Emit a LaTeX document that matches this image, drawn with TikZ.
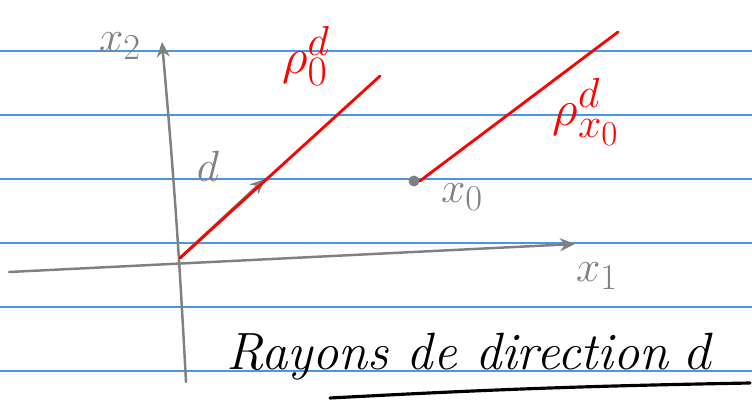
\documentclass[tikz,border=0pt]{standalone}
\usepackage{tikz}
\usetikzlibrary{arrows.meta}

\definecolor{ruleblue}{RGB}{74,150,230}
\definecolor{pengray}{RGB}{128,128,128}

\begin{document}
\begin{tikzpicture}[x=0.02cm,y=-0.02cm,>={Stealth[length=3mm,width=2.6mm]},
    rule/.style={ruleblue,line width=0.9pt},
    axis/.style={pengray,line width=1.4pt,line cap=round},
    ray/.style={red,line width=1.6pt,line cap=round},
    graylabel/.style={pengray,font=\Huge,inner sep=0pt},
    redlabel/.style={red,font=\Huge,inner sep=0pt,scale=1.15}]
  \useasboundingbox[fill=white] (0,0) rectangle (752,403);
  % lined paper
  \foreach \y in {51,115,179,243,307,371}
    \draw[rule] (0,\y) -- (752,\y);
  % axes
  \coordinate (o) at (180,258);
  \coordinate (x2bot) at (186,382);
  \coordinate (x2top) at (162,42);
  \coordinate (x1left) at (9,272);
  \coordinate (x1right) at (575,244);
  \draw[axis,->] (x2bot) to[bend right=1] (x2top);
  \draw[axis,->] (x1left) -- (x1right);
  \node[graylabel] (lx2) at (120,46) {$x_2$};
  \node[graylabel] (lx1) at (597,276) {$x_1$};
  % direction d and the ray from the origin
  \coordinate (dtip) at (265,179);
  \coordinate (r0end) at (380,76);
  \draw[axis,->,line width=1.6pt] (o) -- (dtip);
  \draw[ray] (o) -- (r0end);
  \node[graylabel] (ld) at (208,166) {$d$};
  \node[redlabel] (lr0) at (306,56) {$\rho_0^d$};
  % the ray from x0
  \node[circle,fill=pengray,inner sep=0pt,minimum size=2.2mm] (x0) at (414,181) {};
  \coordinate (r1end) at (618,32);
  \draw[ray] (x0.east) -- (r1end);
  \node[graylabel] (lx0) at (462,197) {$x_0$};
  \node[redlabel] (lr1) at (586,112) {$\rho_{x_0}^d$};
  % title
  \node[anchor=base,inner sep=0pt,font=\Huge\itshape,scale=1.2] (title) at (470,369) {Rayons de direction $d$};
  \coordinate (ulstart) at (330,398);
  \coordinate (ulend) at (750,383);
  \draw[black,line width=1.8pt,line cap=round] (ulstart) to[bend left=1] (ulend);
\end{tikzpicture}
\end{document}
